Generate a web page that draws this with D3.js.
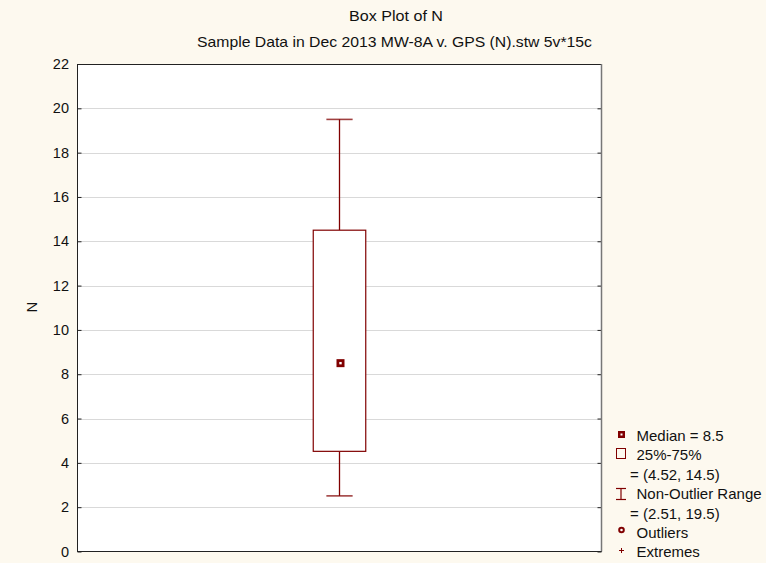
<!DOCTYPE html>
<html>
<head>
<meta charset="utf-8">
<script src="https://cdn.jsdelivr.net/npm/d3@7"></script>
<style>
  html, body { margin: 0; padding: 0; background: #fdf9ef; }
  svg { display: block; font-family: "Liberation Sans", Arial, sans-serif; }
</style>
</head>
<body>
<svg id="chart" width="766" height="563"></svg>
<script>
// Box plot summary for variable N
const categories = ["N"];
const medians = [8.5];
const quartile1 = [4.52];
const quartile3 = [14.5];
const whiskerLow = [2.51];
const whiskerHigh = [19.5];
const yTicks = [0, 2, 4, 6, 8, 10, 12, 14, 16, 18, 20, 22];

const titleText = "Box Plot of N";
const subtitleText = "Sample Data in Dec 2013 MW-8A v. GPS (N).stw 5v*15c";
const yLabel = "N";

const legendLines = [
  { icon: "median", text: "Median = 8.5" },
  { icon: "box", text: "25%-75%" },
  { icon: null, text: "= (4.52, 14.5)" },
  { icon: "whisker", text: "Non-Outlier Range" },
  { icon: null, text: "= (2.51, 19.5)" },
  { icon: "outlier", text: "Outliers" },
  { icon: "extreme", text: "Extremes" }
];

const dark = "#800000";
const svg = d3.select("#chart");

const plot = { left: 77, top: 64, right: 602, bottom: 551.5 };

const y = d3.scaleLinear().domain([0, 22]).range([plot.bottom, plot.top]);
const x = d3.scaleBand().domain(categories).range([plot.left, plot.right]).paddingInner(0).paddingOuter(0);

// titles
svg.append("text").attr("x", 349).attr("y", 20.5)
  .attr("font-size", 15.5).attr("fill", "#111")
  .attr("textLength", 94).attr("lengthAdjust", "spacingAndGlyphs")
  .text(titleText);
svg.append("text").attr("x", 197).attr("y", 46.5)
  .attr("font-size", 15).attr("fill", "#111")
  .attr("textLength", 395).attr("lengthAdjust", "spacingAndGlyphs")
  .text(subtitleText);

// plot area
svg.append("rect").attr("x", plot.left).attr("y", plot.top)
  .attr("width", plot.right - plot.left).attr("height", plot.bottom - plot.top)
  .attr("fill", "#ffffff");

// gridlines
svg.append("g").selectAll("line").data(yTicks.filter(t => t > 0 && t < 22)).join("line")
  .attr("x1", plot.left).attr("x2", plot.right)
  .attr("y1", d => Math.round(y(d)) + 0.5).attr("y2", d => Math.round(y(d)) + 0.5)
  .attr("stroke", "#d9d9d9").attr("stroke-width", 1);

// left axis with inward ticks
const yAxis = d3.axisLeft(y).tickValues(yTicks).tickSize(-4).tickPadding(8.5).tickFormat(d3.format("d"));
const gy = svg.append("g").attr("transform", `translate(${plot.left + 0.5},0)`).call(yAxis);
gy.select(".domain").remove();
gy.selectAll(".tick line").attr("stroke", "#222");
gy.selectAll(".tick text").attr("font-size", 14.5).attr("fill", "#111")
  .attr("font-family", "Liberation Sans, Arial, sans-serif");

// right axis ticks (inward)
const yAxisR = d3.axisRight(y).tickValues(yTicks).tickSize(-4).tickFormat("");
const gyr = svg.append("g").attr("transform", `translate(${plot.right - 0.5},0)`).call(yAxisR);
gyr.select(".domain").remove();
gyr.selectAll(".tick line").attr("stroke", "#222");

// frame
svg.append("line").attr("x1", plot.left).attr("x2", plot.right).attr("y1", plot.top + 0.5).attr("y2", plot.top + 0.5).attr("stroke", "#222");
svg.append("line").attr("x1", plot.left + 0.5).attr("x2", plot.left + 0.5).attr("y1", plot.top).attr("y2", plot.bottom).attr("stroke", "#222");
svg.append("line").attr("x1", plot.left).attr("x2", plot.right).attr("y1", plot.bottom).attr("y2", plot.bottom).attr("stroke", "#222");
svg.append("line").attr("x1", plot.right - 0.5).attr("x2", plot.right - 0.5).attr("y1", plot.top).attr("y2", plot.bottom).attr("stroke", "#777").attr("stroke-width", 1.5);

// y label
svg.append("text").attr("transform", "translate(36.5,307) rotate(-90)")
  .attr("text-anchor", "middle").attr("font-size", 15).attr("fill", "#111").text(yLabel);

// box plot
const boxW = x.bandwidth() * 0.1;
const capW = x.bandwidth() * 0.05;
const stats = categories.map((c, i) => ({
  cat: c, med: medians[i], q1: quartile1[i], q3: quartile3[i], lo: whiskerLow[i], hi: whiskerHigh[i]
}));
const g = svg.append("g").selectAll("g").data(stats).join("g");
const cx = d => x(d.cat) + x.bandwidth() / 2;

// whiskers
g.append("line").attr("x1", cx).attr("x2", cx).attr("y1", d => y(d.hi)).attr("y2", d => y(d.q3))
  .attr("stroke", dark).attr("stroke-width", 1.3);
g.append("line").attr("x1", cx).attr("x2", cx).attr("y1", d => y(d.q1)).attr("y2", d => y(d.lo))
  .attr("stroke", dark).attr("stroke-width", 1.3);
g.append("line").attr("x1", d => cx(d) - capW / 2).attr("x2", d => cx(d) + capW / 2)
  .attr("y1", d => y(d.hi)).attr("y2", d => y(d.hi)).attr("stroke", dark).attr("stroke-width", 1.6).attr("stroke-opacity", 0.75);
g.append("line").attr("x1", d => cx(d) - capW / 2).attr("x2", d => cx(d) + capW / 2)
  .attr("y1", d => y(d.lo)).attr("y2", d => y(d.lo)).attr("stroke", dark).attr("stroke-width", 1.6).attr("stroke-opacity", 0.75);

// box
g.append("rect").attr("x", d => cx(d) - boxW / 2).attr("width", boxW)
  .attr("y", d => y(d.q3)).attr("height", d => y(d.q1) - y(d.q3))
  .attr("fill", "#ffffff").attr("stroke", dark).attr("stroke-width", 1.2);

// median marker
g.append("rect").attr("x", d => cx(d) + 1 - 4).attr("y", d => y(d.med) - 4)
  .attr("width", 8).attr("height", 8).attr("fill", dark);
g.append("rect").attr("x", d => cx(d) + 1 - 1.2).attr("y", d => y(d.med) - 1.2)
  .attr("width", 2.4).attr("height", 2.4).attr("fill", "#ffffff");

// legend
const legendBaselines = [440.5, 460, 479.5, 499, 518.5, 537.5, 557];
const lg = svg.append("g");
legendLines.forEach((item, i) => {
  const by = legendBaselines[i];
  const tx = item.icon ? 636.5 : 630;
  lg.append("text").attr("x", tx).attr("y", by).attr("font-size", 15).attr("fill", "#111").text(item.text);
  const iy = by - 5.5;
  if (item.icon === "median") {
    lg.append("rect").attr("x", 618).attr("y", iy - 4).attr("width", 7).attr("height", 7).attr("fill", dark);
    lg.append("rect").attr("x", 620.5).attr("y", iy - 1.5).attr("width", 2).attr("height", 2).attr("fill", "#fff");
  } else if (item.icon === "box") {
    lg.append("rect").attr("x", 616.5).attr("y", 448.5).attr("width", 9).attr("height", 10)
      .attr("fill", "none").attr("stroke", dark).attr("stroke-width", 1);
  } else if (item.icon === "whisker") {
    lg.append("line").attr("x1", 621).attr("x2", 621).attr("y1", 488).attr("y2", 500).attr("stroke", dark).attr("stroke-width", 1.2);
    lg.append("line").attr("x1", 616).attr("x2", 626).attr("y1", 488.5).attr("y2", 488.5).attr("stroke", dark).attr("stroke-width", 1.2);
    lg.append("line").attr("x1", 616).attr("x2", 626).attr("y1", 499.5).attr("y2", 499.5).attr("stroke", dark).attr("stroke-width", 1.2);
  } else if (item.icon === "outlier") {
    lg.append("circle").attr("cx", 621.5).attr("cy", 530).attr("r", 2.3)
      .attr("fill", "#fff").attr("stroke", dark).attr("stroke-width", 2);
  } else if (item.icon === "extreme") {
    lg.append("line").attr("x1", 619).attr("x2", 624).attr("y1", 550.5).attr("y2", 550.5).attr("stroke", dark).attr("stroke-width", 1);
    lg.append("line").attr("x1", 621.5).attr("x2", 621.5).attr("y1", 548).attr("y2", 553).attr("stroke", dark).attr("stroke-width", 1);
  }
});
</script>
</body>
</html>
